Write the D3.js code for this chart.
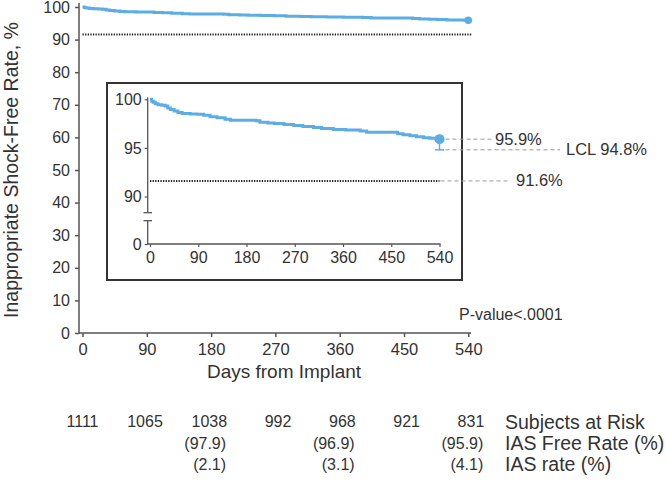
<!DOCTYPE html>
<html>
<head>
<meta charset="utf-8">
<script src="https://cdn.jsdelivr.net/npm/d3@7"></script>
<style>
  html, body { margin: 0; padding: 0; background: #fff; }
  svg { display: block; }
  text { font-family: "Liberation Sans", Arial, Helvetica, sans-serif; fill: #333; }
</style>
</head>
<body>
<svg id="chart" width="666" height="482"></svg>
<script>
// ---------------- data ----------------
const kmDays = [0, 3, 6, 10, 15, 22, 28, 33, 38, 45, 52, 60, 75, 88, 100, 112, 125, 140, 150, 175, 198, 205, 220, 232, 250, 268, 285, 305, 320, 342, 365, 392, 404, 454, 462, 472, 485, 497, 510, 522, 535, 540];
const kmRate = [100, 99.8, 99.7, 99.55, 99.45, 99.4, 99.3, 99.1, 98.95, 98.8, 98.65, 98.55, 98.5, 98.45, 98.35, 98.2, 98.1, 97.95, 97.85, 97.85, 97.8, 97.65, 97.55, 97.5, 97.4, 97.3, 97.2, 97.1, 97.0, 96.9, 96.85, 96.75, 96.6, 96.6, 96.45, 96.35, 96.25, 96.15, 96.05, 95.98, 95.9, 95.9];
const dayTicks = [0, 90, 180, 270, 360, 450, 540];
const mainRateTicks = [0, 10, 20, 30, 40, 50, 60, 70, 80, 90, 100];
const insetRateTicks = [0, 90, 95, 100];
const estimate = 95.9;
const lcl = 94.8;
const goal = 91.6;
const subjectsAtRisk = [1111, 1065, 1038, 992, 968, 921, 831];
const rateDays = [180, 360, 540];
const iasFreeRate = [97.9, 96.9, 95.9];
const iasRate = [2.1, 3.1, 4.1];
const rowLabels = ["Subjects at Risk", "IAS Free Rate (%)", "IAS rate (%)"];
const yTitle = "Inappropriate Shock-Free Rate, %";
const xTitle = "Days from Implant";
const pText = "P-value<.0001";

// ---------------- drawing ----------------
const BLUE = "#5DADE4";
const AX = "#555";
const svg = d3.select("#chart");
const pts = kmDays.map((d, i) => [d, kmRate[i]]);

// ===== main chart =====
const x = d3.scaleLinear().domain([0, 540]).range([82.5, 468.3]);
const y = d3.scaleLinear().domain([0, 100]).range([333, 7]);
const main = svg.append("g");

const gx = main.append("g").attr("transform", "translate(0,333)")
  .call(d3.axisBottom(x).tickValues(dayTicks).tickSize(4).tickSizeOuter(0).tickPadding(6));
gx.select(".domain").remove();
gx.selectAll(".tick line").attr("stroke", AX).attr("stroke-width", 1.5);
gx.selectAll(".tick text").attr("font-size", 16.5).attr("fill", "#333")
  .style("font-family", '"Liberation Sans", Arial, sans-serif');

const gy = main.append("g").attr("transform", "translate(79,0)")
  .call(d3.axisLeft(y).tickValues(mainRateTicks).tickSize(4).tickSizeOuter(0).tickPadding(5));
gy.select(".domain").remove();
gy.selectAll(".tick line").attr("stroke", AX).attr("stroke-width", 1.5);
gy.selectAll(".tick text").attr("font-size", 16).attr("fill", "#333")
  .style("font-family", '"Liberation Sans", Arial, sans-serif');

main.append("line").attr("x1", 79).attr("x2", 79).attr("y1", 3).attr("y2", 333.75)
  .attr("stroke", AX).attr("stroke-width", 1.5);
main.append("line").attr("x1", 79).attr("x2", 471).attr("y1", 333).attr("y2", 333)
  .attr("stroke", AX).attr("stroke-width", 1.5);

// goal dotted line
main.append("line").attr("x1", x(0)).attr("x2", x(540) + 4).attr("y1", y(goal)).attr("y2", y(goal))
  .attr("stroke", "#222").attr("stroke-width", 2).attr("stroke-dasharray", "1.3,1.3");

const lineMain = d3.line().curve(d3.curveStepAfter).x(d => x(d[0])).y(d => y(d[1]));
main.append("path").datum(pts).attr("d", lineMain)
  .attr("fill", "none").attr("stroke", BLUE).attr("stroke-width", 3);
main.append("circle").attr("cx", x(540)).attr("cy", y(estimate)).attr("r", 3.8).attr("fill", BLUE);

// axis titles
main.append("text").attr("transform", `translate(18,170) rotate(-90)`)
  .attr("text-anchor", "middle").attr("font-size", 19.5).text(yTitle);
main.append("text").attr("x", 284).attr("y", 378).attr("text-anchor", "middle")
  .attr("font-size", 19).text(xTitle);
main.append("text").attr("x", 459).attr("y", 320).attr("font-size", 16).text(pText);

// ===== inset =====
const inset = svg.append("g");
inset.append("rect").attr("x", 107).attr("y", 83).attr("width", 355).attr("height", 197)
  .attr("fill", "#fff").attr("stroke", "#333").attr("stroke-width", 2);

const xi = d3.scaleLinear().domain([0, 540]).range([150, 439.5]);
const yi = d3.scaleLinear().domain([0, 88.3, 100]).range([244, 213, 99.3]);

const gxi = inset.append("g").attr("transform", "translate(0,244)")
  .call(d3.axisBottom(xi).tickValues(dayTicks).tickSize(3).tickSizeOuter(0).tickPadding(5));
gxi.select(".domain").remove();
gxi.selectAll(".tick line").attr("stroke", AX).attr("stroke-width", 1.2);
gxi.selectAll(".tick text").attr("font-size", 16).attr("fill", "#333")
  .style("font-family", '"Liberation Sans", Arial, sans-serif');

const gyi = inset.append("g").attr("transform", "translate(147.7,0)")
  .call(d3.axisLeft(yi).tickValues(insetRateTicks).tickSize(3).tickSizeOuter(0).tickPadding(3));
gyi.select(".domain").remove();
gyi.selectAll(".tick line").attr("stroke", AX).attr("stroke-width", 1.2);
gyi.selectAll(".tick text").attr("font-size", 16).attr("fill", "#333")
  .style("font-family", '"Liberation Sans", Arial, sans-serif');

// broken y axis
const brkTop = 212.7, brkBot = 220.7;
inset.append("line").attr("x1", 147.7).attr("x2", 147.7).attr("y1", yi(100) - 2).attr("y2", brkTop)
  .attr("stroke", AX).attr("stroke-width", 1.3);
inset.append("line").attr("x1", 147.7).attr("x2", 147.7).attr("y1", brkBot).attr("y2", 244.6)
  .attr("stroke", AX).attr("stroke-width", 1.3);
[brkTop, brkBot].forEach(v => inset.append("line").attr("x1", 143.5).attr("x2", 152)
  .attr("y1", v).attr("y2", v).attr("stroke", AX).attr("stroke-width", 1.3));
inset.append("line").attr("x1", 147.7).attr("x2", 440.5).attr("y1", 244).attr("y2", 244)
  .attr("stroke", AX).attr("stroke-width", 1.3);

// goal dotted line
inset.append("line").attr("x1", xi(0)).attr("x2", xi(540)).attr("y1", yi(goal)).attr("y2", yi(goal))
  .attr("stroke", "#222").attr("stroke-width", 2).attr("stroke-dasharray", "1.3,1.3");

const lineIn = d3.line().curve(d3.curveStepAfter).x(d => xi(d[0])).y(d => yi(d[1]));
inset.append("path").datum(pts).attr("d", lineIn)
  .attr("fill", "none").attr("stroke", BLUE).attr("stroke-width", 3);

// error bar + point
inset.append("line").attr("x1", xi(540)).attr("x2", xi(540)).attr("y1", yi(estimate)).attr("y2", yi(lcl))
  .attr("stroke", BLUE).attr("stroke-width", 1.5);
inset.append("line").attr("x1", xi(540) - 4.5).attr("x2", xi(540) + 4.5).attr("y1", yi(lcl)).attr("y2", yi(lcl))
  .attr("stroke", BLUE).attr("stroke-width", 1.5);
inset.append("circle").attr("cx", xi(540)).attr("cy", yi(estimate)).attr("r", 5).attr("fill", BLUE);

// leaders and annotations
const leaders = [
  { v: estimate, x1: xi(540) + 6, x2: 492, tx: 495, label: d3.format(".1f")(estimate) + "%" },
  { v: lcl, x1: xi(540) + 6, x2: 560, tx: 566, label: "LCL " + d3.format(".1f")(lcl) + "%" },
  { v: goal, x1: xi(540) + 1, x2: 510, tx: 516, label: d3.format(".1f")(goal) + "%" }
];
leaders.forEach(l => {
  svg.append("line").attr("x1", l.x1).attr("x2", l.x2).attr("y1", yi(l.v)).attr("y2", yi(l.v))
    .attr("stroke", "#999").attr("stroke-width", 1).attr("stroke-dasharray", "4,3");
  svg.append("text").attr("x", l.tx).attr("y", yi(l.v) + 5.5).attr("font-size", 16.5).text(l.label);
});

// ===== risk table =====
const rowY = [427, 448.5, 469.5];
const table = svg.append("g");
subjectsAtRisk.forEach((n, i) => {
  table.append("text").attr("x", x(dayTicks[i]) + 16).attr("y", rowY[0])
    .attr("text-anchor", "end").attr("font-size", 16).text(n);
});
rateDays.forEach((d, i) => {
  table.append("text").attr("x", x(d) + 15).attr("y", rowY[1])
    .attr("text-anchor", "end").attr("font-size", 16).text("(" + d3.format(".1f")(iasFreeRate[i]) + ")");
  table.append("text").attr("x", x(d) + 15).attr("y", rowY[2])
    .attr("text-anchor", "end").attr("font-size", 16).text("(" + d3.format(".1f")(iasRate[i]) + ")");
});
rowLabels.forEach((t, i) => {
  table.append("text").attr("x", 505).attr("y", rowY[i] + 1.5).attr("font-size", 19.5).text(t);
});
</script>
</body>
</html>
